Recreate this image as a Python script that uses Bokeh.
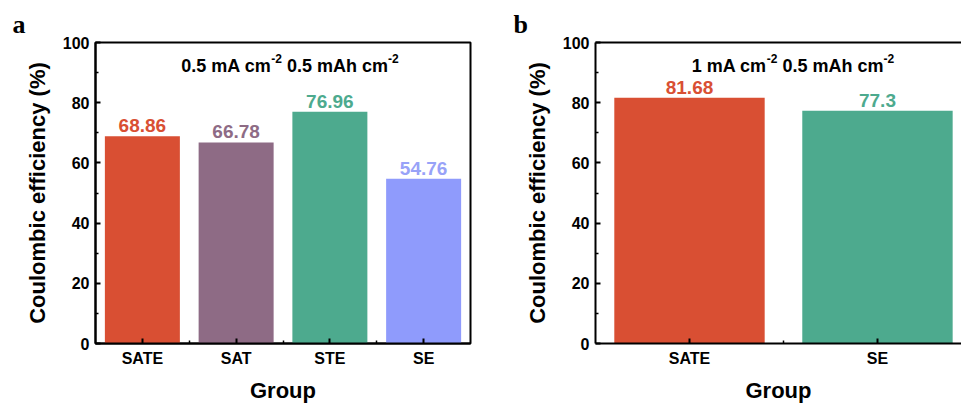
from bokeh.plotting import figure
from bokeh.layouts import row
from bokeh.models import Range1d, FixedTicker, LinearAxis, Label, ColumnDataSource
from bokeh.embed import file_html
from bokeh.resources import INLINE
from bokeh.core.properties import value

# Panel a: 0.5 mA cm-2, 0.5 mAh cm-2
groups_a = ["SATE", "SAT", "STE", "SE"]
ce_a = [68.86, 66.78, 76.96, 54.76]
bar_colors_a = ["#d94f33", "#8e6b85", "#4daa8e", "#8f9bfc"]
label_colors_a = ["#d94f33", "#8e6b85", "#4daa8e", "#98a2f8"]

# Panel b: 1 mA cm-2, 0.5 mAh cm-2
groups_b = ["SATE", "SE"]
ce_b = [81.68, 77.3]
bar_colors_b = ["#d94f33", "#4daa8e"]
label_colors_b = ["#d94f33", "#4daa8e"]

y_ticks = [0, 20, 40, 60, 80, 100]

# test conditions: (text, is_superscript) runs
cond_a = [("0.5 mA cm", False), ("-2", True), (" 0.5 mAh cm", False), ("-2", True)]
cond_b = [("1 mA cm", False), ("-2", True), (" 0.5 mAh cm", False), ("-2", True)]

SANS = "Liberation Sans"
SERIF = "Liberation Serif"

# advance widths (em) of the bold sans face, for laying out mixed-size runs
ADV = {"0": .556, "1": .556, "2": .556, "5": .556, ".": .278, " ": .278,
       "m": .889, "A": .722, "c": .556, "h": .611, "-": .333}
MAIN_PX, SUP_PX, SUP_RISE = 18, 12, 8


def run_width(text, px):
    return sum(ADV.get(ch, .556) for ch in text) * px


def add_condition(p, runs, x, y):
    sizes = [SUP_PX if sup else MAIN_PX for _, sup in runs]
    total = sum(run_width(t, s) for (t, _), s in zip(runs, sizes))
    off = -total / 2
    for (t, sup), s in zip(runs, sizes):
        # leading blanks are collapsed by the renderer, so advance past them here
        lead = len(t) - len(t.lstrip(" "))
        off += run_width(" " * lead, s)
        body = t.lstrip(" ")
        p.add_layout(Label(x=x, y=y, x_offset=off, y_offset=SUP_RISE if sup else 0,
                           text=body, text_align="left", text_baseline="alphabetic",
                           text_font=SANS, text_font_style="bold",
                           text_font_size=f"{s}px", text_color="black"))
        off += run_width(body, s)


def style_axis(ax, major_in=5, minor_in=3):
    ax.axis_line_width = 2
    ax.axis_line_color = "black"
    ax.major_tick_in = major_in
    ax.major_tick_out = 0
    ax.minor_tick_in = minor_in
    ax.minor_tick_out = 0
    ax.major_tick_line_width = 2
    ax.minor_tick_line_width = 1.5
    ax.major_tick_line_color = "black"
    ax.minor_tick_line_color = "black"
    ax.major_label_text_font = SANS
    ax.major_label_text_font_style = "bold"
    ax.major_label_text_font_size = "16px"
    ax.major_label_text_color = "black"
    ax.axis_label_text_font = SANS
    ax.axis_label_text_font_style = "bold"
    ax.axis_label_text_font_size = "22px"
    ax.axis_label_text_color = "black"


def make_panel(groups, vals, bar_cols, lab_cols, x_end, width, left, right,
               letter, letter_offset, cond, cond_x, boxed):
    p = figure(width=width, height=405,
               x_range=Range1d(0, x_end), y_range=Range1d(0, 100),
               output_backend="svg", toolbar_location=None,
               min_border_left=left, min_border_right=right,
               min_border_top=42, min_border_bottom=61,
               title=letter)
    p.grid.visible = False
    p.background_fill_color = "white"
    p.border_fill_color = "white"

    # panel letter
    p.title.align = "left"
    p.title.offset = letter_offset
    p.title.standoff = 8
    p.title.text_font = SERIF
    p.title.text_font_style = "bold"
    p.title.text_font_size = "26px"
    p.title.text_color = "black"

    xs = [i + 0.5 for i in range(len(groups))]
    src = ColumnDataSource(dict(x=xs, top=vals, color=bar_cols, lcolor=lab_cols,
                                label=[str(v) for v in vals]))
    p.vbar(x="x", top="top", width=0.8, color="color", line_color=None, source=src)
    p.text(x="x", y="top", text="label", text_color="lcolor",
           text_align="center", text_baseline="bottom", y_offset=-4,
           text_font=value(SANS), text_font_style="bold",
           text_font_size="19px", source=src)

    xa = p.below[0]
    xa.ticker = FixedTicker(ticks=xs, minor_ticks=[i for i in range(1, len(groups))])
    xa.major_label_overrides = {x: g for x, g in zip(xs, groups)}
    xa.axis_label = "Group"
    style_axis(xa, major_in=5, minor_in=3)
    xa.major_label_standoff = 6
    xa.axis_label_standoff = 8

    ya = p.left[0]
    ya.ticker = FixedTicker(ticks=y_ticks, minor_ticks=[10, 30, 50, 70, 90])
    ya.axis_label = "Coulombic efficiency (%)"
    style_axis(ya, major_in=5, minor_in=3)
    ya.major_label_standoff = 6
    ya.axis_label_standoff = 10

    if boxed:
        p.outline_line_color = "black"
        p.outline_line_width = 2
    else:
        # open on the right: only a plain top spine
        p.outline_line_color = None
        top = LinearAxis(ticker=FixedTicker(ticks=[]))
        top.axis_line_width = 2
        top.axis_line_color = "black"
        top.major_tick_line_color = None
        top.minor_tick_line_color = None
        top.major_label_text_font_size = "0px"
        top.major_label_standoff = 0
        p.add_layout(top, "above")

    add_condition(p, cond, cond_x, 92.05)
    return p


pa = make_panel(groups_a, ce_a, bar_colors_a, label_colors_a, 4, 480, 95, 10,
                "a", -83, cond_a, 2.075, True)
pb = make_panel(groups_b, ce_b, bar_colors_b, label_colors_b, 1.947, 481, 115, 0,
                "b", -82, cond_b, 1.05, False)

layout = row(pa, pb)
open("out.html", "w").write(file_html(layout, INLINE))
